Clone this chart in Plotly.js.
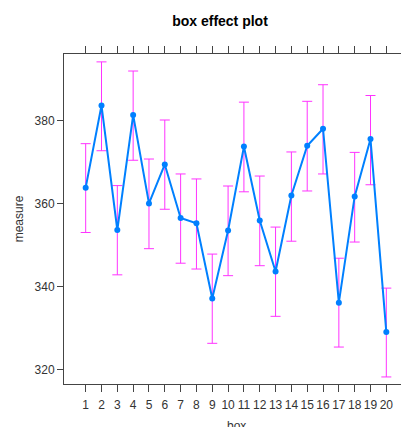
<!DOCTYPE html>
<html>
<head>
<meta charset="utf-8">
<script src="https://cdn.plot.ly/plotly-3.0.1.min.js"></script>
<style>
html,body{margin:0;padding:0;overflow:hidden;background:#fff;}
#chart{width:440px;height:427px;}
</style>
</head>
<body>
<div id="chart"></div>
<script>
var boxes = [1,2,3,4,5,6,7,8,9,10,11,12,13,14,15,16,17,18,19,20];
var fit   = [363.9,383.7,353.7,381.4,360.1,369.5,356.6,355.3,337.2,353.6,373.8,356.0,343.7,362.0,374.0,378.1,336.2,361.8,375.6,329.1];
var upper = [374.5,394.2,364.4,392.0,370.8,380.2,367.2,366.0,347.9,364.3,384.5,366.7,354.4,372.5,384.7,388.7,346.9,372.4,386.1,339.7];
var lower = [353.1,372.8,342.9,370.5,349.2,358.7,345.7,344.3,326.4,342.7,362.9,345.1,332.9,351.0,363.1,367.2,325.5,350.8,364.6,318.3];
var tickLabels = boxes.map(String);

var plus = fit.map(function(v,i){return upper[i]-v;});
var minus = fit.map(function(v,i){return v-lower[i];});

var trace = {
  x: boxes, y: fit, type: 'scatter', mode: 'lines+markers',
  line: {color: '#0080ff', width: 2},
  marker: {color: '#0080ff', size: 6},
  error_y: {type: 'data', symmetric: false, array: plus, arrayminus: minus,
            color: '#ff33ff', thickness: 1, width: 5},
  hoverinfo: 'skip'
};

var font = {family: 'Liberation Sans, Arial, sans-serif', size: 12, color: '#333'};
var layout = {
  width: 440, height: 427,
  margin: {l: 64, r: 32, t: 54, b: 42.5},
  paper_bgcolor: '#fff', plot_bgcolor: '#fff',
  showlegend: false,
  font: font,
  title: {text: '<b>box effect plot</b>', x: 0.5, xref: 'container', xanchor: 'center',
          y: 1 - 21/427, yref: 'container', yanchor: 'middle',
          font: {family: 'Liberation Sans, Arial, sans-serif', size: 14, color: '#000'}},
  xaxis: {
    range: [-0.37, 21.37], tickmode: 'array', tickvals: boxes, ticktext: tickLabels,
    showgrid: false, zeroline: false, showline: true, linecolor: '#444', linewidth: 1,
    mirror: 'ticks', ticks: 'outside', ticklen: 7, tickcolor: '#444',
    ticklabelstandoff: 3,
    tickfont: font
  },
  yaxis: {
    range: [316.6, 396.1], tickmode: 'array', tickvals: [320,340,360,380],
    showgrid: false, zeroline: false, showline: true, linecolor: '#444', linewidth: 1,
    mirror: 'ticks', ticks: 'outside', ticklen: 6, tickcolor: '#444',
    tickfont: font,
    title: {text: 'measure', font: font, standoff: 8}
  },
  annotations: [{
    text: 'box', xref: 'paper', yref: 'paper', x: 0.5, y: 0,
    xanchor: 'center', yanchor: 'top', yshift: -33, showarrow: false, font: font
  }]
};
Plotly.newPlot('chart', [trace], layout, {displayModeBar: false, staticPlot: true});
</script>
</body>
</html>
